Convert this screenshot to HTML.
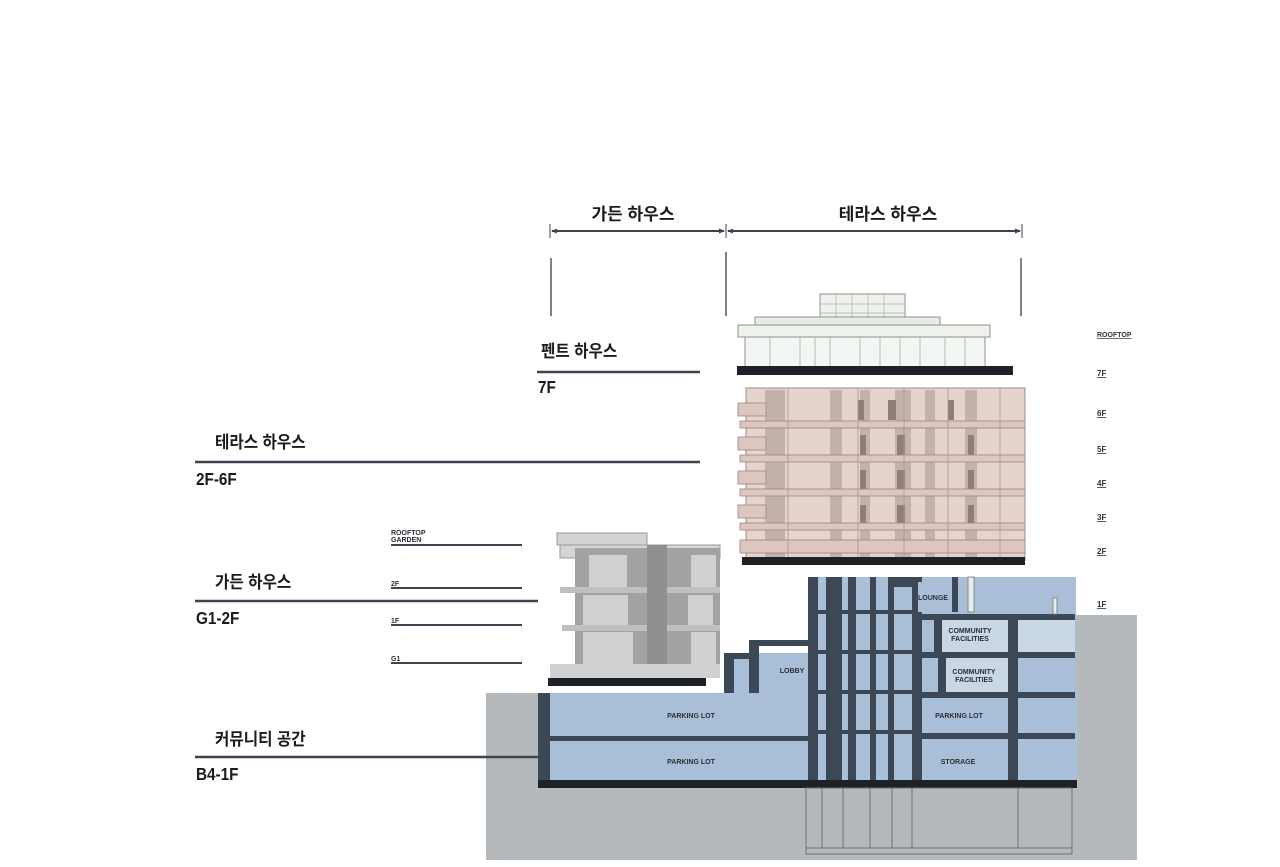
<!DOCTYPE html>
<html><head><meta charset="utf-8"><style>
html,body{margin:0;padding:0;background:#fff;width:1280px;height:867px;overflow:hidden}
svg{display:block}
.k{font-family:"Liberation Sans","Noto Sans CJK KR",sans-serif;font-weight:bold;fill:#1b1b1b}
.c{font-family:"Liberation Sans",sans-serif;font-weight:bold;fill:#1b1b1b}
.s{font-family:"Liberation Sans",sans-serif;font-weight:bold;fill:#2a2f36;font-size:7px}
.f{font-family:"Liberation Sans",sans-serif;font-weight:bold;fill:#333;font-size:8px;text-decoration:underline}
</style></head><body>
<svg width="1280" height="867" viewBox="0 0 1280 867" xmlns="http://www.w3.org/2000/svg">
<defs>
<marker id="a" markerWidth="6" markerHeight="6" refX="5" refY="3" orient="auto-start-reverse" markerUnits="userSpaceOnUse"><path d="M0,0.5 L6,3 L0,5.5 z" fill="#3b4550"/></marker>
</defs>
<!-- top dimension -->
<text class="k" x="633" y="220" font-size="17" text-anchor="middle">가든 하우스</text>
<text class="k" x="888" y="220" font-size="17" text-anchor="middle">테라스 하우스</text>
<line x1="552" y1="231" x2="724" y2="231" stroke="#3b4550" stroke-width="2" marker-start="url(#a)" marker-end="url(#a)"/>
<line x1="728" y1="231" x2="1020" y2="231" stroke="#3b4550" stroke-width="2" marker-start="url(#a)" marker-end="url(#a)"/>
<line x1="550" y1="224" x2="550" y2="238" stroke="#3b4550"/>
<line x1="726" y1="224" x2="726" y2="238" stroke="#3b4550"/>
<line x1="1022" y1="224" x2="1022" y2="238" stroke="#3b4550"/>
<line x1="551" y1="258" x2="551" y2="316" stroke="#555" stroke-width="1.5"/>
<line x1="726" y1="252" x2="726" y2="316" stroke="#555" stroke-width="1.5"/>
<line x1="1021" y1="258" x2="1021" y2="316" stroke="#555" stroke-width="1.5"/>

<!-- left labels -->
<text class="k" x="541" y="357" font-size="17" transform="translate(541 0) scale(0.92 1) translate(-541 0)">펜트 하우스</text>
<line x1="537" y1="372" x2="700" y2="372" stroke="#3b4550" stroke-width="2.5"/>
<text class="c" x="538" y="393" font-size="18" transform="translate(538 0) scale(0.85 1) translate(-538 0)">7F</text>
<text class="k" x="215" y="448" font-size="17" transform="translate(215 0) scale(0.92 1) translate(-215 0)">테라스 하우스</text>
<line x1="195" y1="462" x2="700" y2="462" stroke="#3b4550" stroke-width="2.5"/>
<text class="c" x="196" y="485" font-size="18" transform="translate(196 0) scale(0.85 1) translate(-196 0)">2F-6F</text>
<text class="k" x="215" y="588" font-size="17" transform="translate(215 0) scale(0.92 1) translate(-215 0)">가든 하우스</text>
<line x1="195" y1="601" x2="538" y2="601" stroke="#3b4550" stroke-width="2.5"/>
<text class="c" x="196" y="624" font-size="18" transform="translate(196 0) scale(0.85 1) translate(-196 0)">G1-2F</text>
<text class="k" x="215" y="745" font-size="17" transform="translate(215 0) scale(0.92 1) translate(-215 0)">커뮤니티 공간</text>
<text class="c" x="196" y="780" font-size="18" transform="translate(196 0) scale(0.85 1) translate(-196 0)">B4-1F</text>

<text class="s" x="391" y="535">ROOFTOP</text>
<text class="s" x="391" y="542">GARDEN</text>
<line x1="391" y1="545" x2="522" y2="545" stroke="#3b4550" stroke-width="2"/>
<text class="s" x="391" y="586">2F</text>
<line x1="391" y1="588" x2="522" y2="588" stroke="#3b4550" stroke-width="2"/>
<text class="s" x="391" y="623">1F</text>
<line x1="391" y1="625" x2="522" y2="625" stroke="#3b4550" stroke-width="2"/>
<text class="s" x="391" y="661">G1</text>
<line x1="391" y1="663" x2="522" y2="663" stroke="#3b4550" stroke-width="2"/>

<!-- right floor labels -->
<g class="f">
<text x="1097" y="337" font-size="7">ROOFTOP</text>
<text x="1097" y="376">7F</text><text x="1097" y="416">6F</text><text x="1097" y="452">5F</text>
<text x="1097" y="486">4F</text><text x="1097" y="520">3F</text><text x="1097" y="554">2F</text>
<text x="1097" y="607">1F</text><text x="1097" y="655">B1</text><text x="1097" y="697">B2</text>
<text x="1097" y="740">B3</text><text x="1097" y="784">B4</text><text x="1097" y="845">B5</text>
</g>

<!-- penthouse -->
<rect x="820" y="294" width="85" height="28" fill="#eef1ec" stroke="#8a948c"/>
<g stroke="#a8b0a8" stroke-width="0.7"><line x1="836" y1="294" x2="836" y2="322"/><line x1="852" y1="294" x2="852" y2="322"/><line x1="868" y1="294" x2="868" y2="322"/><line x1="884" y1="294" x2="884" y2="322"/><line x1="820" y1="304" x2="905" y2="304"/><line x1="820" y1="313" x2="905" y2="313"/></g>
<rect x="755" y="317" width="185" height="10" fill="#e8ece6" stroke="#8a948c"/>
<rect x="738" y="325" width="252" height="12" fill="#eef1ec" stroke="#8a948c"/>
<rect x="745" y="337" width="240" height="30" fill="#f4f6f3" stroke="#8a948c"/>
<g stroke="#a8b0a8" stroke-width="0.8">
<line x1="770" y1="337" x2="770" y2="367"/><line x1="800" y1="337" x2="800" y2="367"/><line x1="815" y1="337" x2="815" y2="367"/><line x1="830" y1="337" x2="830" y2="367"/><line x1="860" y1="337" x2="860" y2="367"/><line x1="880" y1="337" x2="880" y2="367"/><line x1="900" y1="337" x2="900" y2="367"/><line x1="920" y1="337" x2="920" y2="367"/><line x1="945" y1="337" x2="945" y2="367"/><line x1="965" y1="337" x2="965" y2="367"/></g>
<rect x="737" y="366" width="276" height="9" fill="#1e2226"/>

<!-- terrace block -->
<rect x="746" y="388" width="279" height="172" fill="#e6d3cc" stroke="#a08e88"/>
<g fill="#c4b1aa">
<rect x="765" y="390" width="20" height="168"/><rect x="830" y="390" width="12" height="168"/><rect x="860" y="390" width="10" height="168"/>
<rect x="895" y="390" width="16" height="168"/><rect x="925" y="390" width="10" height="168"/><rect x="965" y="390" width="12" height="168"/>
</g>
<g fill="#8f7d78">
<rect x="858" y="400" width="6" height="20"/><rect x="888" y="400" width="8" height="20"/><rect x="948" y="400" width="6" height="20"/>
<rect x="860" y="435" width="6" height="20"/><rect x="897" y="435" width="8" height="20"/><rect x="968" y="435" width="6" height="20"/>
<rect x="860" y="470" width="6" height="20"/><rect x="897" y="470" width="8" height="20"/><rect x="968" y="470" width="6" height="20"/>
<rect x="860" y="505" width="6" height="20"/><rect x="897" y="505" width="8" height="20"/><rect x="968" y="505" width="6" height="20"/>
</g>
<g fill="#dcc6bf" stroke="#9b8781" stroke-width="0.8">
<rect x="740" y="421" width="285" height="7"/><rect x="740" y="455" width="285" height="7"/><rect x="740" y="489" width="285" height="7"/><rect x="740" y="523" width="285" height="7"/>
<rect x="738" y="403" width="28" height="13"/><rect x="738" y="437" width="28" height="13"/><rect x="738" y="471" width="28" height="13"/><rect x="738" y="505" width="28" height="13"/><rect x="740" y="540" width="285" height="13"/>
</g>
<g stroke="#a89590" stroke-width="0.8"><line x1="788" y1="388" x2="788" y2="560"/><line x1="858" y1="388" x2="858" y2="560"/><line x1="904" y1="388" x2="904" y2="560"/><line x1="948" y1="388" x2="948" y2="560"/><line x1="1000" y1="388" x2="1000" y2="560"/></g>
<rect x="742" y="557" width="283" height="8" fill="#1e2226"/>

<!-- ground -->
<rect x="486" y="693" width="651" height="167" fill="#b5b9bc"/>
<rect x="1075" y="615" width="62" height="80" fill="#b5b9bc"/>
<line x1="195" y1="757" x2="540" y2="757" stroke="#3b4550" stroke-width="2.5"/>

<!-- garden house -->
<rect x="557" y="533" width="90" height="12" fill="#d2d3d3" stroke="#999"/>
<rect x="560" y="545" width="160" height="13" fill="#d5d6d6" stroke="#999"/>
<rect x="575" y="548" width="145" height="130" fill="#a0a2a3"/>
<rect x="589" y="555" width="38" height="37" fill="#cfd0d0"/>
<rect x="691" y="555" width="25" height="37" fill="#cfd0d0"/>
<rect x="583" y="595" width="45" height="32" fill="#cfd0d0"/>
<rect x="688" y="595" width="25" height="32" fill="#cfd0d0"/>
<rect x="583" y="632" width="50" height="36" fill="#cfd0d0"/>
<rect x="691" y="632" width="25" height="36" fill="#cfd0d0"/>
<rect x="560" y="587" width="160" height="6" fill="#bebfbf"/>
<rect x="562" y="625" width="158" height="6" fill="#bebfbf"/>
<rect x="647" y="545" width="20" height="132" fill="#8d8f90"/>
<rect x="550" y="664" width="170" height="14" fill="#cfd0d0"/>
<rect x="548" y="678" width="158" height="8" fill="#1e2226"/>

<!-- basement blue -->
<rect x="538" y="693" width="540" height="88" fill="#a9bfd8"/>
<rect x="538" y="693" width="12" height="88" fill="#3d4856"/>
<rect x="550" y="736" width="265" height="5" fill="#3d4856"/>
<rect x="724" y="653" width="84" height="40" fill="#a9bfd8"/>
<rect x="724" y="653" width="10" height="40" fill="#3d4856"/><rect x="724" y="653" width="25" height="6" fill="#3d4856"/>
<rect x="749" y="640" width="10" height="53" fill="#3d4856"/><rect x="749" y="640" width="59" height="6" fill="#3d4856"/>
<!-- tower -->
<rect x="808" y="577" width="268" height="204" fill="#a9bfd8"/>
<g fill="#3d4856">
<rect x="808" y="577" width="10" height="204"/><rect x="826" y="577" width="16" height="204"/><rect x="848" y="577" width="8" height="204"/>
<rect x="870" y="577" width="6" height="204"/><rect x="888" y="577" width="6" height="204"/><rect x="893" y="577" width="19" height="10"/>
<rect x="912" y="577" width="10" height="204"/><rect x="952" y="577" width="6" height="35"/>
<rect x="1008" y="615" width="10" height="166"/>
<rect x="922" y="614" width="153" height="6"/><rect x="922" y="652" width="153" height="6"/><rect x="922" y="692" width="153" height="6"/><rect x="922" y="733" width="153" height="6"/>
<rect x="808" y="610" width="104" height="4"/><rect x="808" y="650" width="104" height="4"/><rect x="808" y="690" width="104" height="4"/><rect x="808" y="730" width="104" height="4"/>
<rect x="934" y="620" width="8" height="32"/><rect x="938" y="658" width="8" height="34"/>
</g>
<rect x="968" y="577" width="6" height="35" fill="#e8ecf0" stroke="#888"/>
<rect x="1053" y="598" width="4" height="16" fill="#e8ecf0" stroke="#888"/>
<rect x="1018" y="620" width="57" height="32" fill="#c8d6e6"/>
<rect x="942" y="620" width="66" height="32" fill="#c8d6e6"/>
<rect x="946" y="658" width="62" height="34" fill="#c8d6e6"/>
<rect x="918" y="582" width="34" height="30" fill="#a9bfd8"/>
<rect x="538" y="780" width="539" height="8" fill="#1e2226"/>
<g fill="none" stroke="#6e7378" stroke-width="1"><rect x="806" y="788" width="266" height="66"/><line x1="822" y1="788" x2="822" y2="848"/><line x1="843" y1="788" x2="843" y2="848"/><line x1="870" y1="788" x2="870" y2="848"/><line x1="892" y1="788" x2="892" y2="848"/><line x1="912" y1="788" x2="912" y2="848"/><line x1="1018" y1="788" x2="1018" y2="848"/><line x1="806" y1="848" x2="1072" y2="848"/></g>

<g class="s" text-anchor="middle" font-size="6.5">
<text x="933" y="600">LOUNGE</text>
<text x="970" y="633">COMMUNITY</text><text x="970" y="641">FACILITIES</text>
<text x="974" y="674">COMMUNITY</text><text x="974" y="682">FACILITIES</text>
<text x="792" y="673">LOBBY</text>
<text x="691" y="718">PARKING LOT</text>
<text x="959" y="718">PARKING LOT</text>
<text x="691" y="764">PARKING LOT</text>
<text x="958" y="764">STORAGE</text>
</g>
</svg>
</body></html>
